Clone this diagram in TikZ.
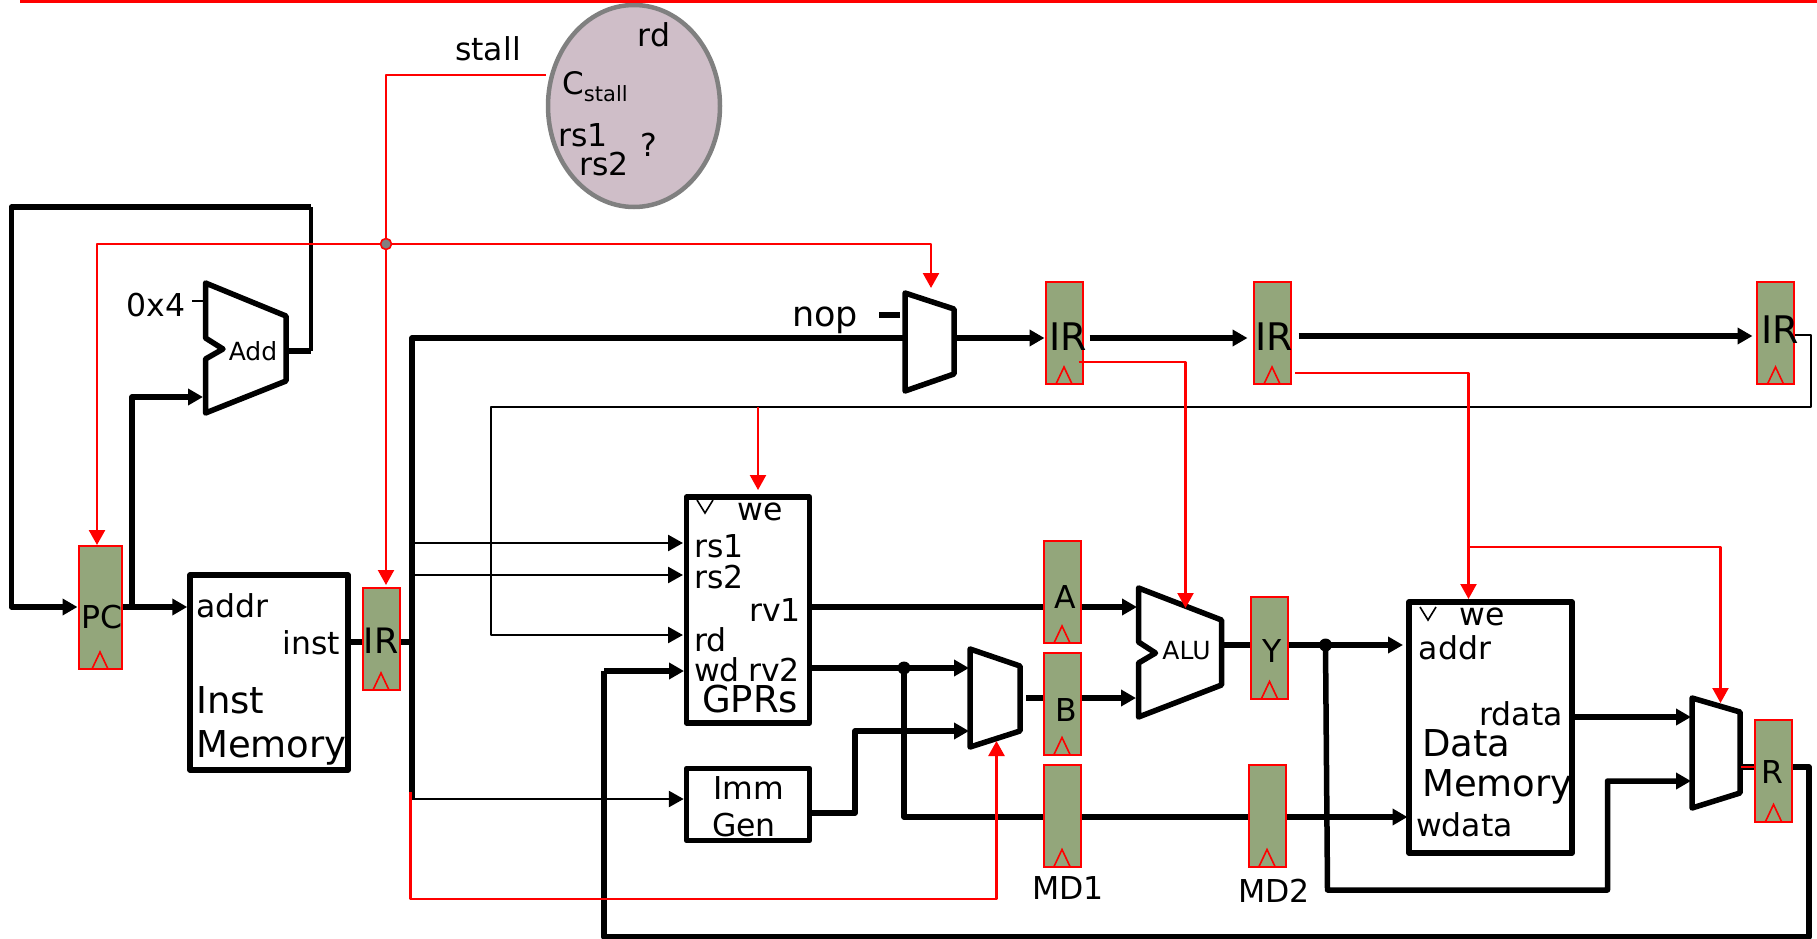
\documentclass[tikz,border=0pt]{standalone}
\usepackage{fontspec}
\setmainfont{DejaVu Sans}
\usetikzlibrary{arrows.meta,positioning,shapes.geometric}

\definecolor{regfill}{RGB}{147,166,123}
\definecolor{ctrlfill}{RGB}{207,190,200}

\tikzset{
  regbox/.style={draw=red, line width=2pt, fill=regfill, inner sep=0pt, minimum width=37pt, minimum height=102pt,
    path picture={\draw[red, line width=1.6pt] ([xshift=-8pt]path picture bounding box.south) -- ([yshift=17pt]path picture bounding box.south) -- ([xshift=8pt]path picture bounding box.south);}},
  unit/.style={draw, line width=5.5pt, line join=round, inner sep=0pt},
  hidden/.style={inner sep=0pt, minimum size=1pt},
  txt/.style={inner sep=0pt, font=\fontsize{31.5}{31.5}\selectfont},
  bigtxt/.style={inner sep=0pt, font=\fontsize{37}{37}\selectfont},
  addtxt/.style={inner sep=0pt, font=\fontsize{25}{25}\selectfont},
  bus/.style={line width=5.5pt, line join=round},
  wire/.style={line width=2.6pt, line join=round},
  ctrl/.style={red, line width=2.2pt, line join=round},
}

\begin{document}
\begin{tikzpicture}[x=1pt,y=-1pt,>={Triangle[length=15pt,width=16pt]}]
\useasboundingbox (0,0) rectangle (1817,939);

% registers
\node[regbox, minimum width=43pt, minimum height=123pt] (PC) at (100,607.5) {};
\node[regbox] (IR0) at (381,639) {};
\node[regbox] (IR1) at (1064,333) {};
\node[regbox] (IR2) at (1272,333) {};
\node[regbox] (IR3) at (1775.5,333) {};
\node[regbox] (A) at (1062,592) {};
\node[regbox] (B) at (1062,703.5) {};
\node[regbox] (MD1) at (1062,815.5) {};
\node[regbox] (MD2) at (1267,815.5) {};
\node[regbox] (Y) at (1269.5,647.5) {};
\node[regbox] (R) at (1773.5,770.5) {};

% boxes
\node[unit, minimum width=158pt, minimum height=195pt] (IMem) at (269,672.5) {};
\node[unit, minimum width=123pt, minimum height=226pt] (GPRs) at (748,610) {};
\node[unit, minimum width=123pt, minimum height=72pt] (ImmGen) at (748,804.5) {};
\node[unit, minimum width=163pt, minimum height=251pt] (DMem) at (1490.5,727.5) {};
\node[draw=black!50, line width=4.5pt, fill=ctrlfill, ellipse, inner sep=0pt, minimum width=172pt, minimum height=202pt] (Ctrl) at (634,106) {};

% alus and muxes
\draw[unit] (205.5,283) -- (286,316) -- (286,381) -- (205.5,413) -- (205.5,359) -- (223,349) -- (205.5,338) -- cycle;
\draw[unit] (1138.5,588) -- (1221.5,620) -- (1221.5,685) -- (1138.5,717) -- (1138.5,663) -- (1155.5,653) -- (1138.5,642) -- cycle;
\draw[unit] (905,293) -- (954,309) -- (954,374) -- (905,391) -- cycle;
\draw[unit] (970,649) -- (1020,666) -- (1020,731) -- (970,747) -- cycle;
\draw[unit] (1692,698) -- (1740,712) -- (1740,793) -- (1692,808) -- cycle;
\node[hidden] (AddOut) at (286,351) {};
\node[hidden] (AluOut) at (1221.5,645) {};
\node[hidden] (MuxOp) at (954,338) {};
\node[hidden] (MuxB) at (1020,698) {};
\node[hidden] (MuxR) at (1740,767) {};

% labels
\node[addtxt] (AddT) at (253,351) {Add};
\node[addtxt] (AluT) at (1186.5,651) {ALU};
\node[txt] (PCT) at (102,617) {PC};
\node[txt, font=\fontsize{35}{35}\selectfont] (IR0T) at (381,641) {IR};
\node[txt, font=\fontsize{38}{38}\selectfont] (IR1T) at (1068,337) {IR};
\node[txt, font=\fontsize{38}{38}\selectfont] (IR2T) at (1274,337) {IR};
\node[txt, font=\fontsize{38}{38}\selectfont] (IR3T) at (1780,330) {IR};
\node[txt] (AT) at (1065.5,597) {A};
\node[txt] (BT) at (1066.5,710) {B};
\node[txt] (YT) at (1272.5,651) {Y};
\node[txt] (RT) at (1772.5,772) {R};
\node[txt] (MD1T) at (1068,888) {MD1};
\node[txt] (MD2T) at (1274,891) {MD2};
\node[txt] (ConstT) at (156,305) {0x4};
\node[txt, font=\fontsize{35}{35}\selectfont] (NopT) at (825,320) {nop};
\node[txt] (StallT) at (488,49) {stall};
\node[txt] (CrdT) at (654,35) {rd};
\node[txt, font=\fontsize{31}{31}\selectfont] (CstallT) at (595,87) {C\raisebox{-7pt}{\fontsize{21}{21}\selectfont stall}};
\node[txt] (Crs1T) at (583,135) {rs1};
\node[txt] (Crs2T) at (604,164) {rs2};
\node[txt] (CqT) at (649,145) {?};

\node[txt, anchor=west] (AddrT) at (196,606) {addr};
\node[txt, anchor=east] (InstT) at (340,643) {inst};
\node[bigtxt, anchor=west] (Inst2T) at (196,700) {Inst};
\node[bigtxt, anchor=west] (Mem1T) at (196,748) {Memory};

\node[txt] (WeT) at (760,512) {we};
\node[txt, anchor=west] (Rs1T) at (694,546) {rs1};
\node[txt, anchor=west] (Rs2T) at (694,577) {rs2};
\node[txt, anchor=east] (Rv1T) at (801,610) {rv1};
\node[txt, anchor=west] (RdT) at (694,640) {rd};
\node[txt, anchor=west] (WdT) at (694,670) {wd};
\node[txt, anchor=east] (Rv2T) at (800,670) {rv2};
\node[bigtxt] (GprT) at (750,699) {GPRs};
\node[txt] (ImmT) at (749,788) {Imm};
\node[txt] (GenT) at (744,825) {Gen};

\node[txt] (We2T) at (1482,617) {we};
\node[txt, anchor=west] (Addr2T) at (1418.5,648) {addr};
\node[txt, anchor=east] (RdataT) at (1563,714) {rdata};
\node[bigtxt, anchor=west] (DataT) at (1422,743) {Data};
\node[bigtxt, anchor=west] (Mem2T) at (1422,787) {Memory};
\node[txt, anchor=west] (WdataT) at (1416,825) {wdata};

% clock marks of the memories
\draw[line width=1.6pt] (697,500) -- (705,513) -- (713,500);
\draw[line width=1.6pt] (1420,607) -- (1428,620) -- (1436,607);

% ports and junctions
\coordinate (Fork) at (386,244);
\coordinate (BusTop) at (412,338);
\coordinate (BusBot) at (412,799);
\coordinate (Bus) at (412,642);
\coordinate (JRv2) at (904,668);
\coordinate (JY) at (1325.5,645);
\coordinate (MuxBa) at (969,668);
\coordinate (MuxBb) at (969,731);
\coordinate (MuxBs) at (996.5,741);
\coordinate (MuxRa) at (1691,717);
\coordinate (MuxRb) at (1691,781);
\coordinate (MuxOpIn) at (905,338);
\coordinate (MuxOpS) at (931,288);
\coordinate (MuxRs) at (1720.5,703);
\coordinate (AluA) at (1137,607);
\coordinate (AluB) at (1136,698);
\coordinate (AluS) at (1185.5,608);
\coordinate (AddIn) at (203,397);
\coordinate (AddConst) at (205,301);
\coordinate (WeGpr) at (758,490);
\coordinate (WeMem) at (1468.5,599);
\coordinate (Sp) at (1468.5,547);

% feedback and fetch
\draw[bus] (AddOut) -- (310.5,351);
\draw[wire, line width=4pt] (310.5,351) -- (310.5,207);
\draw[bus, ->] (310.5,207) -- (11.5,207) -- (11.5,607) -- (PC.west |- 0,607);
\draw[bus, ->] (PC.east |- 0,607) -- (IMem.west |- 0,607);
\draw[bus, ->] (132,607) -- (132,397) -- (AddIn);
\draw[wire] (192,301) -- (AddConst);

% instruction path
\draw[bus] (IMem.east |- Bus) -- (IR0.west |- Bus);
\draw[bus] (IR0.east |- Bus) -- (Bus);
\draw[bus] (BusBot) -- (BusTop) -- (MuxOpIn);
\draw[bus, ->] (MuxOp) -- (IR1.west |- MuxOp);
\draw[bus, ->, shorten <=6pt, shorten >=5pt] (IR1.east |- MuxOp) -- (IR2.west |- MuxOp);
\draw[bus, ->, shorten <=7pt] (IR2.east |- 0,336) -- (1752.5,336);
\draw[bus] (879,315) -- (900,315);
\draw[wire, ->] (412,543) -- (683,543);
\draw[wire, ->] (412,575) -- (683,575);
\draw[wire, ->] (BusBot) -- (ImmGen.west |- BusBot);
\draw[wire, ->] (IR3.east |- 0,335) -- (1811,335) -- (1811,407) -- (491,407) -- (491,635) -- (683,635);

% register file to alu
\draw[bus] (GPRs.east |- 0,607) -- (A.west |- 0,607);
\draw[bus, ->] (A.east |- AluA) -- (AluA);
\draw[bus, ->] (GPRs.east |- JRv2) -- (JRv2) -- (MuxBa);
\draw[bus] (JRv2) -- (904,817) -- (MD1.west |- 0,817);
\draw[bus] (MD1.east |- 0,817) -- (MD2.west |- 0,817);
\draw[bus, ->] (MD2.east |- 0,817) -- (1407.5,817);
\draw[bus, ->] (ImmGen.east |- 0,813) -- (855,813) -- (855,731) -- (MuxBb);
\draw[bus] (1026,698) -- (B.west |- AluB);
\draw[bus, ->] (B.east |- AluB) -- (AluB);
\draw[bus] (AluOut) -- (Y.west |- AluOut);
\draw[bus, ->] (Y.east |- AluOut) -- (1403,645);
\draw[bus, ->] (JY) -- (1327.5,890) -- (1607.5,890) -- (1607.5,781) -- (MuxRb);
\draw[bus, ->] (DMem.east |- MuxRa) -- (MuxRa);
\draw[bus] (MuxR) -- (R.west |- MuxR);
\draw[ctrl] (MuxR) -- (R.west |- MuxR);
\draw[bus] (R.east |- MuxR) -- (1809,767) -- (1809,937) -- (604,937) -- (604,671);
\draw[bus, ->] (604,671) -- (684,671);
\fill (JRv2) circle (6.5pt);
\fill (JY) circle (6.5pt);

% control
\draw[red, line width=3.5pt] (20,1) -- (1817,1);
\draw[ctrl, line width=2.5pt] (Ctrl.west |- 0,75) -- (386,75) -- (Fork);
\draw[ctrl, ->] (Fork) -- (386,585);
\draw[ctrl, line width=2.5pt, ->] (Fork) -- (97,244) -- (PC.north -| 97,0);
\draw[ctrl, line width=2.5pt, ->] (Fork) -- (931,244) -- (MuxOpS);
\draw[ctrl, ->] (758,407) -- (WeGpr);
\draw[ctrl, line width=2.5pt, ->] (410.5,792) -- (410.5,899) -- (996.5,899) -- (MuxBs);
\draw[ctrl, ->] (1078.5,362) -- (1185.5,362) -- (AluS);
\draw[ctrl, ->] (1295,373) -- (1468.5,373) -- (WeMem);
\draw[ctrl, ->] (Sp) -- (1720.5,547) -- (MuxRs);
\draw[ctrl, fill=black!50, line width=1.6pt] (Fork) circle (5.5pt);

\end{tikzpicture}
\end{document}
